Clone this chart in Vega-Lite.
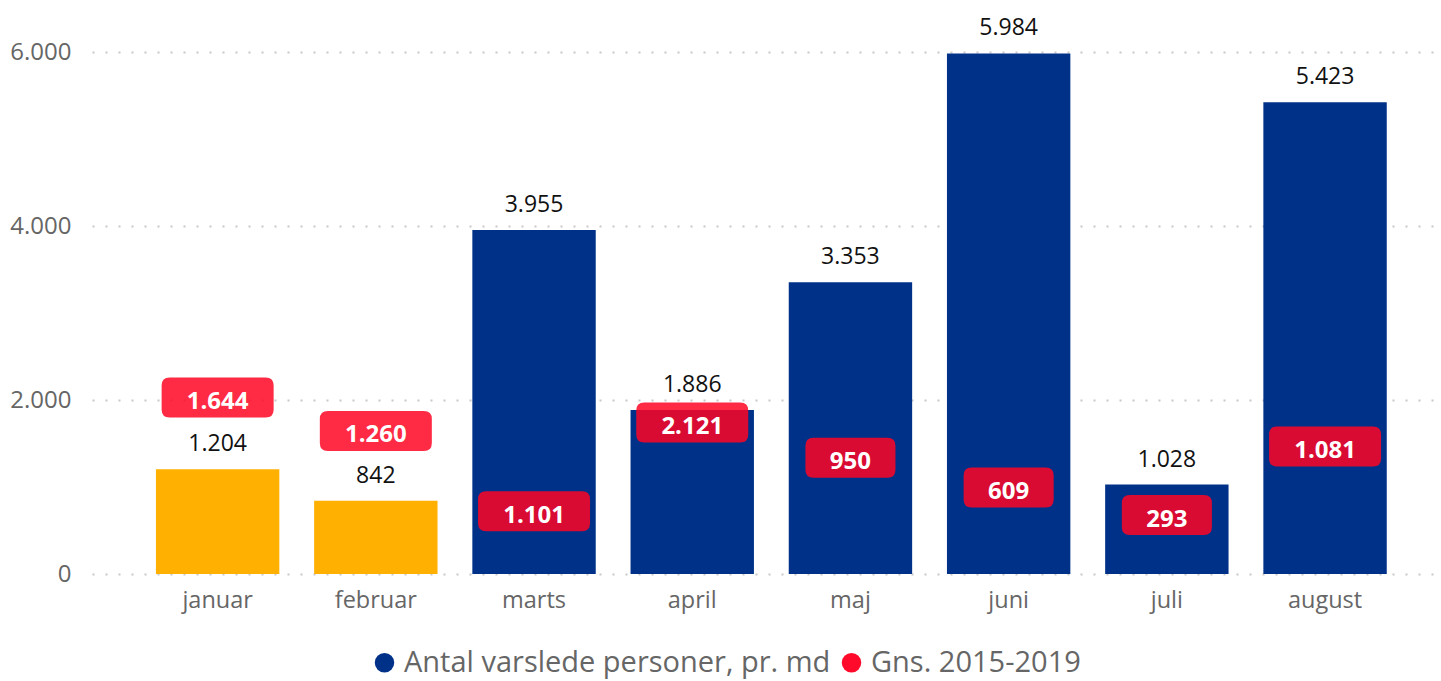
{
  "$schema": "https://vega.github.io/schema/vega-lite/v6.json",
  "width": 1349,
  "height": 574,
  "autosize": {"type": "none"},
  "padding": {"left": 92, "top": 0, "right": 0, "bottom": 107},
  "background": "white",
  "data": {
    "values": [
      {"month": "januar", "antal": 1204, "gns": 1644},
      {"month": "februar", "antal": 842, "gns": 1260},
      {"month": "marts", "antal": 3955, "gns": 1101},
      {"month": "april", "antal": 1886, "gns": 2121},
      {"month": "maj", "antal": 3353, "gns": 950},
      {"month": "juni", "antal": 5984, "gns": 609},
      {"month": "juli", "antal": 1028, "gns": 293},
      {"month": "august", "antal": 5423, "gns": 1081}
    ]
  },
  "encoding": {
    "x": {
      "field": "month",
      "type": "nominal",
      "sort": ["januar", "februar", "marts", "april", "maj", "juni", "juli", "august"],
      "scale": {"paddingInner": 0.22, "paddingOuter": 0.3735, "align": 0.541},
      "axis": {
        "title": null,
        "labelAngle": 0,
        "domain": false,
        "ticks": false,
        "labelPadding": 14,
        "labelFontSize": 23.5,
        "labelColor": "#666666",
        "labelFont": "Open Sans"
      }
    }
  },
  "layer": [
    {
      "mark": {"type": "bar"},
      "encoding": {
        "y": {
          "field": "antal",
          "type": "quantitative",
          "scale": {"domain": [0, 6598], "nice": false},
          "axis": {
            "title": null,
            "values": [0, 2000, 4000, 6000],
            "labelExpr": "replace(format(datum.value, ',d'), ',', '.')",
            "domain": false,
            "ticks": false,
            "grid": true,
            "gridDash": [2, 11],
            "gridColor": "#c8c8c8",
            "gridWidth": 2,
            "labelPadding": 21,
            "labelFontSize": 24,
            "labelColor": "#666666",
            "labelFont": "Open Sans"
          }
        },
        "color": {
          "condition": {"test": "indexof(['januar','februar'], datum.month) >= 0", "value": "#ffb000"},
          "datum": "Antal varslede personer, pr. md",
          "type": "nominal",
          "scale": {
            "domain": ["Antal varslede personer, pr. md", "Gns. 2015-2019"],
            "range": ["#003189", "#ff0a2a"]
          },
          "legend": {
            "title": null,
            "orient": "none",
            "direction": "horizontal",
            "legendX": 278,
            "legendY": 648,
            "symbolType": "circle",
            "symbolSize": 380,
            "symbolOpacity": 1,
            "symbolStrokeWidth": 0,
            "labelFontSize": 29,
            "labelColor": "#666666",
            "labelFont": "Open Sans",
            "labelOffset": 5,
            "columnPadding": 6,
            "labelLimit": 700
          }
        }
      }
    },
    {
      "mark": {"type": "text", "baseline": "alphabetic", "dy": -18, "fontSize": 23, "font": "Open Sans", "color": "#111111"},
      "encoding": {
        "y": {"field": "antal", "type": "quantitative"},
        "text": {"field": "antal", "type": "quantitative", "format": ","}
      }
    },
    {
      "transform": [{"filter": "datum.month != 'marts' && datum.month != 'april'"}],
      "layer": [
        {
          "mark": {"type": "point", "filled": true, "size": 12544, "color": "#ff0523", "opacity": 0.85, "strokeWidth": 0},
          "encoding": {
            "y": {"field": "gns", "type": "quantitative"},
            "shape": {
              "condition": {
                "test": "datum.gns >= 1000",
                "value": "M-0.857,-0.955H0.857Q1,-0.955,1,-0.812V-0.384Q1,-0.241,0.857,-0.241H-0.857Q-1,-0.241,-1,-0.384V-0.812Q-1,-0.955,-0.857,-0.955Z"
              },
              "value": "M-0.661,-0.955H0.661Q0.804,-0.955,0.804,-0.812V-0.384Q0.804,-0.241,0.661,-0.241H-0.661Q-0.804,-0.241,-0.804,-0.384V-0.812Q-0.804,-0.955,-0.661,-0.955Z"
            }
          }
        },
        {
          "mark": {"type": "text", "baseline": "alphabetic", "dy": -22, "fontSize": 24, "fontWeight": "bold", "font": "Open Sans", "color": "white"},
          "encoding": {
            "y": {"field": "gns", "type": "quantitative"},
            "text": {"field": "gns", "type": "quantitative", "format": ","}
          }
        }
      ]
    },
    {
      "transform": [{"filter": "datum.month == 'marts' || datum.month == 'april'"}],
      "layer": [
        {
          "mark": {
            "type": "point", "filled": true, "size": 12544, "color": "#ff0523", "opacity": 0.85, "strokeWidth": 0,
            "shape": "M-0.857,0.232H0.857Q1,0.232,1,0.375V0.803Q1,0.946,0.857,0.946H-0.857Q-1,0.946,-1,0.803V0.375Q-1,0.232,-0.857,0.232Z"
          },
          "encoding": {
            "y": {"field": "gns", "type": "quantitative"}
          }
        },
        {
          "mark": {"type": "text", "baseline": "alphabetic", "dy": 45, "fontSize": 24, "fontWeight": "bold", "font": "Open Sans", "color": "white"},
          "encoding": {
            "y": {"field": "gns", "type": "quantitative"},
            "text": {"field": "gns", "type": "quantitative", "format": ","}
          }
        }
      ]
    }
  ],
  "config": {
    "view": {"stroke": null},
    "font": "Open Sans",
    "locale": {
      "number": {"decimal": ",", "thousands": ".", "grouping": [3], "currency": ["", " kr."]}
    }
  }
}
